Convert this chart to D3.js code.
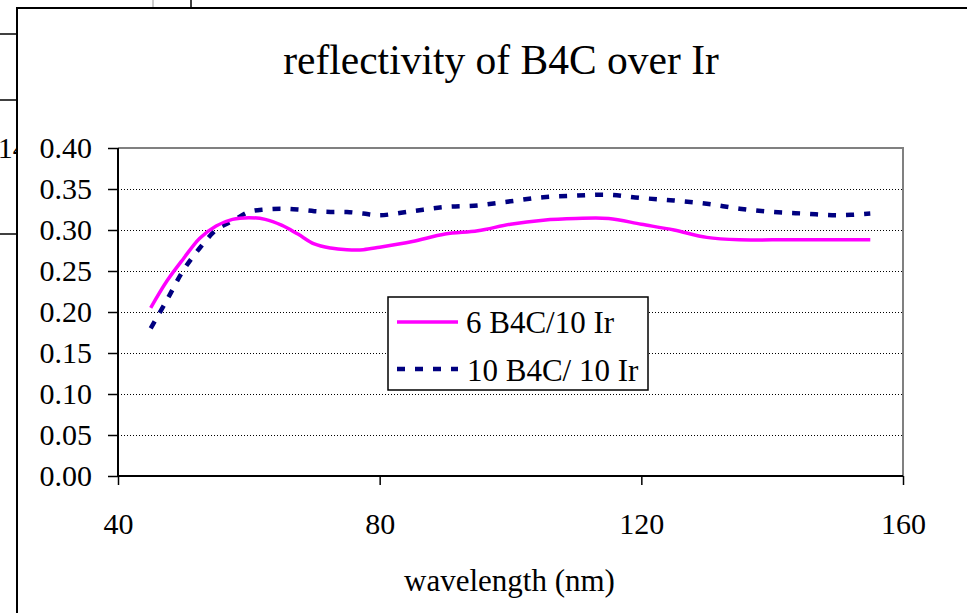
<!DOCTYPE html>
<html>
<head>
<meta charset="utf-8">
<script src="https://cdn.jsdelivr.net/npm/d3@7/dist/d3.min.js"></script>
<style>
  html, body { margin: 0; padding: 0; background: #fff; }
  svg { display: block; }
  text { font-family: "Liberation Serif", "Times New Roman", serif; fill: #000; }
</style>
</head>
<body>
<svg id="chart" width="967" height="613"></svg>
<script>
// Wavelength samples (nm), shared by both multilayer series
const wavelengths = [45, 47.5, 50, 52.5, 55, 57.5, 60, 62.5, 65, 67.5, 70, 72.5, 75, 77.5, 80,
                     85, 90, 95, 100, 105, 110, 115, 120, 125, 130, 135, 140, 145, 150, 155];
// Reflectivity, 6 B4C / 10 Ir
const reflect6 = [0.205, 0.238, 0.265, 0.290, 0.305, 0.313, 0.315, 0.313, 0.306, 0.295, 0.283, 0.278, 0.276, 0.276, 0.279,
                  0.286, 0.295, 0.299, 0.307, 0.312, 0.314, 0.314, 0.307, 0.300, 0.291, 0.288, 0.288, 0.288, 0.288, 0.288];
// Reflectivity, 10 B4C / 10 Ir
const reflect10 = [0.180, 0.215, 0.251, 0.278, 0.300, 0.311, 0.322, 0.325, 0.326, 0.325, 0.323, 0.322, 0.322, 0.320, 0.318,
                   0.323, 0.328, 0.330, 0.335, 0.340, 0.342, 0.343, 0.339, 0.336, 0.332, 0.326, 0.322, 0.320, 0.318, 0.320];
const seriesNames = ["6 B4C/10 Ir", "10 B4C/ 10 Ir"];
const xTicks = [40, 80, 120, 160];
const yTicks = [0, 0.05, 0.10, 0.15, 0.20, 0.25, 0.30, 0.35, 0.40];
const titleText = "reflectivity of B4C over Ir";
const xLabel = "wavelength (nm)";

const svg = d3.select("#chart");

// Plot region
const plot = { left: 118, right: 903, top: 148, bottom: 476 };
const x = d3.scaleLinear().domain([40, 160]).range([plot.left, plot.right]);
const y = d3.scaleLinear().domain([0, 0.40]).range([plot.bottom, plot.top]);

const dash = "8,10";

// Fragments of neighbouring sheet objects around the chart frame
const edge = svg.append("g").attr("stroke", "#000").attr("stroke-width", 1.5);
[34, 100, 234].forEach(v => edge.append("line").attr("x1", 0).attr("x2", 17).attr("y1", v).attr("y2", v));
edge.append("line").attr("x1", 191).attr("x2", 191).attr("y1", 0).attr("y2", 8);
svg.append("line").attr("x1", 153).attr("x2", 153).attr("y1", 0).attr("y2", 8)
  .attr("stroke", "#999").attr("stroke-width", 1);
svg.append("clipPath").attr("id", "leftClip")
  .append("rect").attr("x", 0).attr("y", 0).attr("width", 17).attr("height", 613);
svg.append("text").attr("clip-path", "url(#leftClip)")
  .attr("x", -2.3).attr("y", 158).attr("font-size", 30).text("14");

// Chart frame
svg.append("path").attr("d", "M17,613 V8 H967")
  .attr("fill", "none").attr("stroke", "#000").attr("stroke-width", 2);

// Title
svg.append("text").attr("x", 501).attr("y", 74).attr("text-anchor", "middle")
  .attr("font-size", 41.5).text(titleText);

// Gridlines (dotted) for interior ticks
svg.append("g").selectAll("line")
  .data(yTicks.filter(t => t > 0 && t < 0.40))
  .join("line")
  .attr("x1", plot.left).attr("x2", plot.right)
  .attr("y1", d => Math.round(y(d)) + 0.5).attr("y2", d => Math.round(y(d)) + 0.5)
  .attr("stroke", "#000").attr("stroke-width", 1).attr("stroke-dasharray", "1,2");

// Plot area border (top and right)
svg.append("path")
  .attr("d", `M${plot.left},${plot.top} H${plot.right} V${plot.bottom}`)
  .attr("fill", "none").attr("stroke", "#808080").attr("stroke-width", 2);

// Axes
const yAxis = d3.axisLeft(y).tickValues(yTicks).tickFormat(d3.format(".2f"))
  .tickSize(10).tickPadding(16);
const gy = svg.append("g").attr("transform", `translate(${plot.left},0)`).call(yAxis);
const xAxis = d3.axisBottom(x).tickValues(xTicks).tickFormat(d3.format("d"))
  .tickSize(9).tickPadding(28);
const gx = svg.append("g").attr("transform", `translate(0,${plot.bottom})`).call(xAxis);
[gx, gy].forEach(g => {
  g.select(".domain").attr("stroke", "#000").attr("stroke-width", 2);
  g.selectAll(".tick line").attr("stroke", "#000").attr("stroke-width", 1.5);
  g.selectAll(".tick text").attr("font-family", "Liberation Serif").attr("font-size", 30).attr("fill", "#000");
});
gx.select(".domain").attr("d", `M${plot.left},0H${plot.right}`);
gy.select(".domain").attr("d", `M0,${plot.bottom}V${plot.top}`);

// X axis label
svg.append("text").attr("x", 509.5).attr("y", 591).attr("text-anchor", "middle")
  .attr("font-size", 31).text(xLabel);

// Series lines
const line = d3.line().curve(d3.curveCatmullRom.alpha(0.5))
  .x(d => x(d[0])).y(d => y(d[1]));
const data6 = wavelengths.map((w, i) => [w, reflect6[i]]);
const data10 = wavelengths.map((w, i) => [w, reflect10[i]]);

svg.append("path").datum(data10).attr("d", line)
  .attr("fill", "none").attr("stroke", "#000080").attr("stroke-width", 4.5)
  .attr("stroke-dasharray", dash);
svg.append("path").datum(data6).attr("d", line)
  .attr("fill", "none").attr("stroke", "#FF00FF").attr("stroke-width", 3.5);

// Legend
const lg = svg.append("g");
lg.append("rect").attr("x", 388).attr("y", 297).attr("width", 260).attr("height", 93)
  .attr("fill", "#fff").attr("stroke", "#000").attr("stroke-width", 1.5);
lg.append("line").attr("x1", 397).attr("x2", 458).attr("y1", 322).attr("y2", 322)
  .attr("stroke", "#FF00FF").attr("stroke-width", 3.5);
lg.append("line").attr("x1", 397).attr("x2", 458).attr("y1", 369).attr("y2", 369)
  .attr("stroke", "#000080").attr("stroke-width", 4.5).attr("stroke-dasharray", dash);
lg.append("text").attr("x", 466).attr("y", 333).attr("font-size", 31).text(seriesNames[0]);
lg.append("text").attr("x", 467).attr("y", 381).attr("font-size", 31).text(seriesNames[1]);
</script>
</body>
</html>
